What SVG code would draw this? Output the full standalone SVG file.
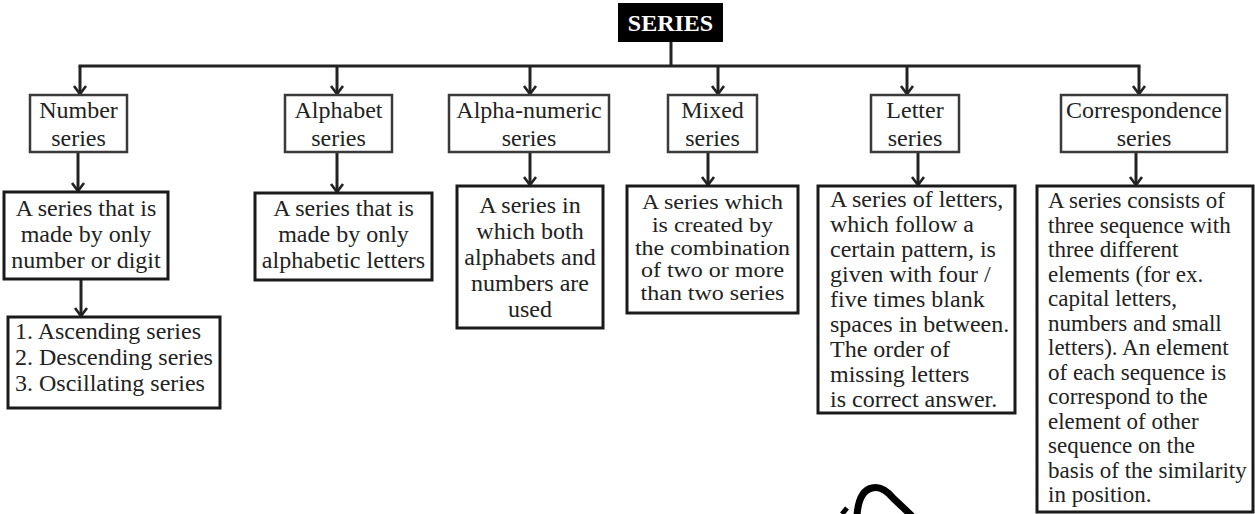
<svg xmlns="http://www.w3.org/2000/svg" width="1255" height="514" viewBox="0 0 1255 514">
<style>
  .box1 { fill: #fff; stroke: #3a3a3a; stroke-width: 2.5; }
  .box2 { fill: #fff; stroke: #1a1a1a; stroke-width: 3; }
  .t { font-family: "Liberation Serif", "Times New Roman", serif; font-size: 24px; fill: #222; }
  .c { text-anchor: middle; }
  .s { font-size: 23px; }
  .m { font-size: 20.5px; }
  .con { stroke: #222; stroke-width: 3; fill: none; }
  .ttl { font-family: "Liberation Serif", "Times New Roman", serif; font-size: 24px; font-weight: bold; fill: #fff; text-anchor: middle; }
</style>
<defs>
  <marker id="ah" markerUnits="userSpaceOnUse" viewBox="-10 -8 12 16" markerWidth="12" markerHeight="16" refX="0" refY="0" orient="auto" overflow="visible">
    <path d="M-8,-6 L0,0 L-8,6" fill="none" stroke="#222" stroke-width="2.6"/>
  </marker>
</defs>
<rect width="1255" height="514" fill="#fff"/>

<g id="connectors" class="con">
  <line x1="671" y1="42" x2="671" y2="66"/>
  <line x1="78.5" y1="66" x2="1140.5" y2="66"/>
  <line x1="80" y1="66" x2="80" y2="94" marker-end="url(#ah)"/>
  <line x1="337" y1="66" x2="337" y2="94" marker-end="url(#ah)"/>
  <line x1="530" y1="66" x2="530" y2="94" marker-end="url(#ah)"/>
  <line x1="718" y1="66" x2="718" y2="94" marker-end="url(#ah)"/>
  <line x1="907" y1="66" x2="907" y2="94" marker-end="url(#ah)"/>
  <line x1="1139" y1="66" x2="1139" y2="94" marker-end="url(#ah)"/>
  <line x1="78" y1="152" x2="78" y2="191" marker-end="url(#ah)"/>
  <line x1="337" y1="152" x2="337" y2="192" marker-end="url(#ah)"/>
  <line x1="530" y1="152" x2="530" y2="185" marker-end="url(#ah)"/>
  <line x1="708" y1="152" x2="708" y2="185" marker-end="url(#ah)"/>
  <line x1="918" y1="152" x2="918" y2="185" marker-end="url(#ah)"/>
  <line x1="1136" y1="152" x2="1136" y2="185" marker-end="url(#ah)"/>
  <line x1="81" y1="279" x2="81" y2="316" marker-end="url(#ah)"/>
</g>

<g id="series">
  <rect x="618" y="3" width="105" height="39" fill="#000"/>
  <text class="ttl" x="670.5" y="31">SERIES</text>
</g>

<g id="number-series">
  <rect class="box1" x="30" y="95" width="97" height="57"/>
  <text class="t c" x="78.5" y="118">Number</text>
  <text class="t c" x="78.5" y="146">series</text>
</g>
<g id="alphabet-series">
  <rect class="box1" x="285" y="95" width="107" height="57"/>
  <text class="t c" x="338.5" y="118">Alphabet</text>
  <text class="t c" x="338.5" y="146">series</text>
</g>
<g id="alphanumeric-series">
  <rect class="box1" x="449" y="95" width="160" height="57"/>
  <text class="t c" x="529" y="118">Alpha-numeric</text>
  <text class="t c" x="529" y="146">series</text>
</g>
<g id="mixed-series">
  <rect class="box1" x="668" y="95" width="89" height="57"/>
  <text class="t c" x="712.5" y="118">Mixed</text>
  <text class="t c" x="712.5" y="146">series</text>
</g>
<g id="letter-series">
  <rect class="box1" x="871" y="95" width="88" height="57"/>
  <text class="t c" x="915" y="118">Letter</text>
  <text class="t c" x="915" y="146">series</text>
</g>
<g id="correspondence-series">
  <rect class="box1" x="1061" y="95" width="166" height="57"/>
  <text class="t c" x="1144" y="118">Correspondence</text>
  <text class="t c" x="1144" y="146">series</text>
</g>

<g id="number-desc">
  <rect class="box2" x="4" y="192" width="164" height="87"/>
  <text class="t c" x="86" y="216">A series that is</text>
  <text class="t c" x="86" y="242">made by only</text>
  <text class="t c" x="86" y="268">number or digit</text>
</g>
<g id="number-types">
  <rect class="box2" x="8" y="317" width="212" height="91"/>
  <text class="t" x="15" y="339">1. Ascending series</text>
  <text class="t" x="15" y="365">2. Descending series</text>
  <text class="t" x="15" y="391">3. Oscillating series</text>
</g>
<g id="alphabet-desc">
  <rect class="box2" x="255" y="193" width="177" height="87"/>
  <text class="t c" x="343.5" y="216">A series that is</text>
  <text class="t c" x="343.5" y="242">made by only</text>
  <text class="t c" x="343.5" y="268">alphabetic letters</text>
</g>
<g id="alphanumeric-desc">
  <rect class="box2" x="457" y="186" width="146" height="142"/>
  <text class="t c" x="530" y="213">A series in</text>
  <text class="t c" x="530" y="239">which both</text>
  <text class="t c" x="530" y="265">alphabets and</text>
  <text class="t c" x="530" y="291">numbers are</text>
  <text class="t c" x="530" y="317">used</text>
</g>
<g id="mixed-desc">
  <rect class="box2" x="627" y="186" width="171" height="127"/>
  <g transform="translate(712.5 0) scale(1.17 1)">
    <text class="t c m" x="0" y="209">A series which</text>
    <text class="t c m" x="0" y="232">is created by</text>
    <text class="t c m" x="0" y="255">the combination</text>
    <text class="t c m" x="0" y="277">of two or more</text>
    <text class="t c m" x="0" y="300">than two series</text>
  </g>
</g>
<g id="letter-desc">
  <rect class="box2" x="818" y="186" width="197" height="227"/>
  <text class="t" x="830" y="207">A series of letters,</text>
  <text class="t" x="830" y="232">which follow a</text>
  <text class="t" x="830" y="257">certain pattern, is</text>
  <text class="t" x="830" y="282">given with four /</text>
  <text class="t" x="830" y="307">five times blank</text>
  <text class="t" x="830" y="332">spaces in between.</text>
  <text class="t" x="830" y="357">The order of</text>
  <text class="t" x="830" y="382">missing letters</text>
  <text class="t" x="830" y="407">is correct answer.</text>
</g>
<g id="correspondence-desc">
  <rect class="box2" x="1037" y="186" width="216" height="326"/>
  <text class="t s" x="1048" y="208">A series consists of</text>
  <text class="t s" x="1048" y="232.5">three sequence with</text>
  <text class="t s" x="1048" y="257">three different</text>
  <text class="t s" x="1048" y="281.5">elements (for ex.</text>
  <text class="t s" x="1048" y="306">capital letters,</text>
  <text class="t s" x="1048" y="330.5">numbers and small</text>
  <text class="t s" x="1048" y="355">letters). An element</text>
  <text class="t s" x="1048" y="379.5">of each sequence is</text>
  <text class="t s" x="1048" y="404">correspond to the</text>
  <text class="t s" x="1048" y="428.5">element of other</text>
  <text class="t s" x="1048" y="453">sequence on the</text>
  <text class="t s" x="1048" y="477.5">basis of the similarity</text>
  <text class="t s" x="1048" y="502">in position.</text>
</g>

<g id="mark">
  <path d="M857,516 C858,500 863,490 872,488 C880,486 887,491 893,498 L912,516" fill="none" stroke="#000" stroke-width="7"/>
  <path d="M842,514 L847,508" fill="none" stroke="#000" stroke-width="5"/>
</g>
</svg>
